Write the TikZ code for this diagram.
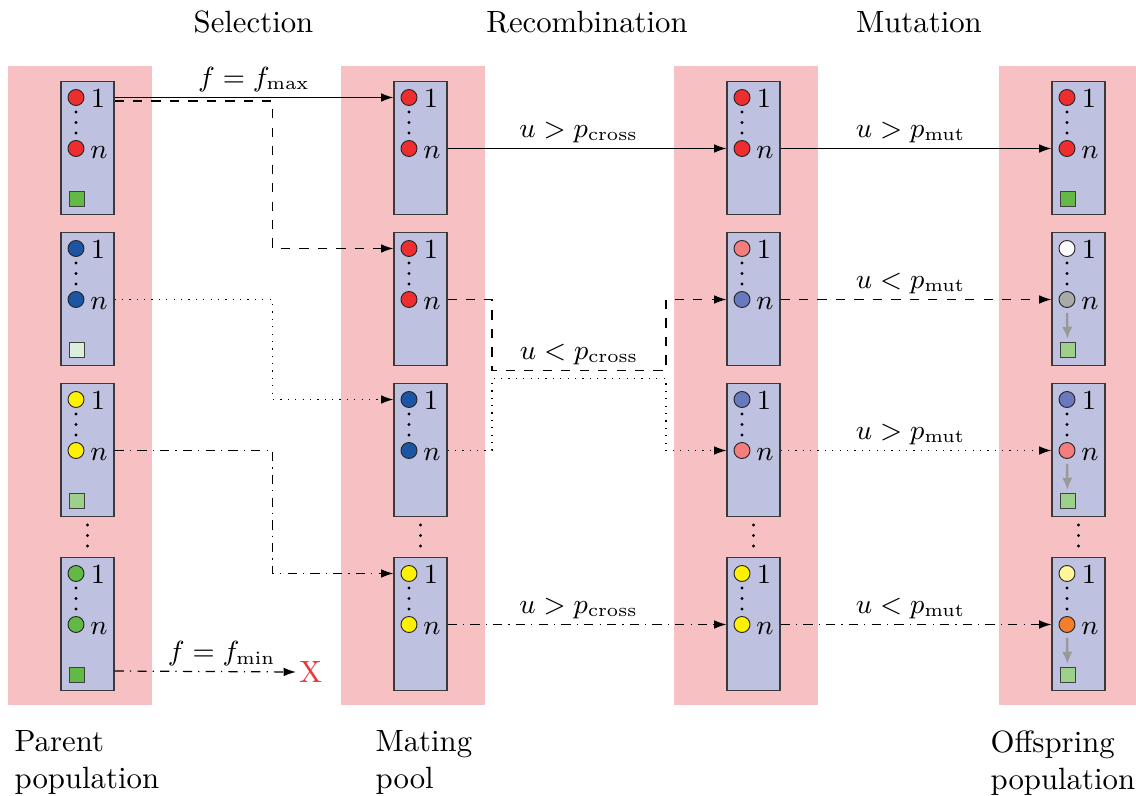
\documentclass[tikz,border=0pt]{standalone}
\usetikzlibrary{calc,arrows.meta}

\definecolor{poolpink}{HTML}{F7C1C3}
\definecolor{boxblue}{HTML}{BFC1E0}
\definecolor{boxedge}{HTML}{3A3A3A}
\definecolor{gred}{HTML}{EE2E2E}
\definecolor{gblue}{HTML}{1C55A4}
\definecolor{gyellow}{HTML}{FFF200}
\definecolor{ggreen}{HTML}{62B946}
\definecolor{gpink}{HTML}{F47E7E}
\definecolor{gviolet}{HTML}{6A79BD}
\definecolor{ggray}{HTML}{AAAAAA}
\definecolor{glightyellow}{HTML}{FFF59A}
\definecolor{gorange}{HTML}{F47F2A}
\definecolor{sqpale}{HTML}{DCEFDC}
\definecolor{sqlight}{HTML}{9DD08B}
\definecolor{xred}{HTML}{EE3333}
\definecolor{mutgray}{HTML}{999999}

% one drawing unit
\def\pxu{0.325pt}

\tikzset{
  indbox/.style={draw=boxedge, fill=boxblue, line width=0.35pt, rectangle,
    minimum width={53*\pxu}, minimum height={133*\pxu}, inner sep=0pt},
  gene/.style={circle, draw=black!85, line width=0.3pt, minimum size={16*\pxu}, inner sep=0pt},
  fitsq/.style={rectangle, draw=black!75, line width=0.3pt, minimum size={15*\pxu}, inner sep=0pt},
  lbl/.style={inner sep=0pt, font=\small},
  conn/.style={-{Latex[length=4pt,width=2.8pt]}, line width=0.4pt},
  mutarr/.style={-{Latex[length=4pt,width=3.4pt]}, draw=mutgray, line width=0.8pt},
  edgelbl/.style={font=\small, inner sep=1.5pt},
  title/.style={anchor=base, inner sep=0pt},
  poptext/.style={anchor=north west, align=left, inner sep=0pt},
}

% an individual: name, left, top, first gene, last gene, fitness square colour (empty: none)
\newcommand{\individual}[6]{%
  \node[indbox] (#1) at (#2+26.5,#3+66.5) {};
  \node[gene, fill=#4] (#1a) at (#2+15,#3+16) {};
  \node[gene, fill=#5] (#1b) at (#2+15,#3+67) {};
  \foreach \d in {30.5,41,51.5} \fill (#2+15,#3+\d) circle[radius=1.6];
  \node[lbl] (#1one) at (#2+37,#3+16.5) {1};
  \node[lbl] (#1n) at (#2+38,#3+71) {$n$};
  \if\relax\detokenize{#6}\relax\else
    \node[fitsq, fill=#6] (#1s) at (#2+15.5,#3+117.5) {};
  \fi
}
% mutation of the last gene acting on the fitness
\newcommand{\mutarrow}[1]{%
  \draw[mutarr] ($(#1b.south)+(0,5)$) -- ($(#1s.north)+(0,-3)$);
}
% vertical ellipsis between the third and the last individual
\newcommand{\popdots}[1]{%
  \foreach \d in {525,535.5,546} \fill (#1+26.5,\d) circle[radius=1.6];
}

\begin{document}
\begin{tikzpicture}[x=0.325pt, y=-0.325pt]
\useasboundingbox (0,0) rectangle (1136,796);

% populations
\fill[poolpink] (8,66) rectangle (152,705);
\fill[poolpink] (341,66) rectangle (485,705);
\fill[poolpink] (674,66) rectangle (818,705);
\fill[poolpink] (999,66) rectangle (1136,705);

% stage titles
\node[title] (tsel) at (253.5,33) {Selection};
\node[title] (trec) at (587,33) {Recombination};
\node[title] (tmut) at (919,33) {Mutation};

% population names
\node[poptext] (lpar) at (14,730) {Parent\\population};
\node[poptext] (lmat) at (375,730) {Mating\\pool};
\node[poptext] (loff) at (990,730) {Offspring\\population};

% parent population
\individual{P1}{61}{81.5}{gred}{gred}{ggreen}
\individual{P2}{61}{232.5}{gblue}{gblue}{sqpale}
\individual{P3}{61}{383.5}{gyellow}{gyellow}{sqlight}
\individual{P4}{61}{557.5}{ggreen}{ggreen}{ggreen}
\popdots{61}

% mating pool
\individual{M1}{394}{81.5}{gred}{gred}{}
\individual{M2}{394}{232.5}{gred}{gred}{}
\individual{M3}{394}{383.5}{gblue}{gblue}{}
\individual{M4}{394}{557.5}{gyellow}{gyellow}{}
\popdots{394}

% after recombination
\individual{R1}{727}{81.5}{gred}{gred}{}
\individual{R2}{727}{232.5}{gpink}{gviolet}{}
\individual{R3}{727}{383.5}{gviolet}{gpink}{}
\individual{R4}{727}{557.5}{gyellow}{gyellow}{}
\popdots{727}

% offspring population
\individual{O1}{1052}{81.5}{gred}{gred}{ggreen}
\individual{O2}{1052}{232.5}{white}{ggray}{sqlight}
\individual{O3}{1052}{383.5}{gviolet}{gpink}{sqlight}
\individual{O4}{1052}{557.5}{glightyellow}{gorange}{sqlight}
\popdots{1052}
\mutarrow{O2}
\mutarrow{O3}
\mutarrow{O4}

% selection
\node[text=xred, inner sep=0.8pt, anchor=west] (dead) at (296,672) {X};
\draw[conn] (P1.east |- P1a) -- node[edgelbl, above] {$f=f_{\max}$} (M1.west |- M1a);
\draw[conn, dashed] ($(P1.east |- P1a)+(0,3.5)$) -| ($(M2.west |- M2a)+(-121,0)$) -- (M2.west |- M2a);
\draw[conn, dotted] (P2.east |- P2b) -| ($(M3.west |- M3a)+(-121,0)$) -- (M3.west |- M3a);
\draw[conn, dash dot] (P3.east |- P3b) -| ($(M4.west |- M4a)+(-121,0)$) -- (M4.west |- M4a);
\draw[conn, dash dot] ($(P4.east |- P4s)+(0,-4)$) -- node[edgelbl, above, pos=0.59] {$f=f_{\min}$} (dead.west);

% recombination
\coordinate (dashlowL) at (492,370.5);
\coordinate (dashlowR) at (666,370.5);
\coordinate (dotupL) at (492,378.5);
\coordinate (dotupR) at (666,378.5);
\draw[conn] (M1.east |- M1b) -- node[edgelbl, above, pos=0.47] {$u>p_{\mathrm{cross}}$} (R1.west |- R1b);
\draw[conn, dashed] (M2.east |- M2b) -| (dashlowL) -- node[edgelbl, above] {$u<p_{\mathrm{cross}}$} (dashlowR) |- (R2.west |- R2b);
\draw[conn, dotted] (M3.east |- M3b) -| (dotupL) -- (dotupR) |- (R3.west |- R3b);
\draw[conn, dash dot] (M4.east |- M4b) -- node[edgelbl, above, pos=0.47] {$u>p_{\mathrm{cross}}$} (R4.west |- R4b);

% mutation
\draw[conn] (R1.east |- R1b) -- node[edgelbl, above, pos=0.48] {$u>p_{\mathrm{mut}}$} (O1.west |- O1b);
\draw[conn, dashed] (R2.east |- R2b) -- node[edgelbl, above, pos=0.48] {$u<p_{\mathrm{mut}}$} (O2.west |- O2b);
\draw[conn, dotted] (R3.east |- R3b) -- node[edgelbl, above, pos=0.48] {$u>p_{\mathrm{mut}}$} (O3.west |- O3b);
\draw[conn, dash dot] (R4.east |- R4b) -- node[edgelbl, above, pos=0.48] {$u<p_{\mathrm{mut}}$} (O4.west |- O4b);
\end{tikzpicture}
\end{document}
